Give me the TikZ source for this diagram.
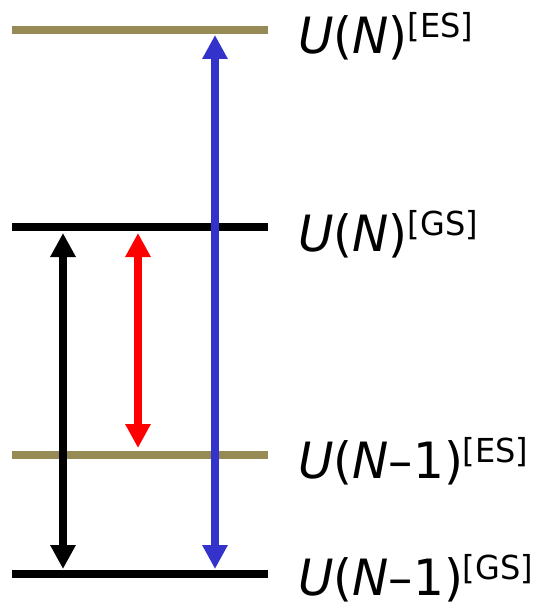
\documentclass[tikz,border=0pt]{standalone}
\usepackage{fontspec}
\setmainfont[FakeStretch=0.97]{DejaVu Sans}
\usetikzlibrary{arrows.meta}
\definecolor{olivelev}{RGB}{150,138,85}
\definecolor{bluearr}{RGB}{51,51,204}
\definecolor{redarr}{RGB}{255,0,0}
\newcommand{\supl}[1]{\raisebox{16pt}{\fontsize{33}{33}\selectfont[#1]}}
\begin{document}
\begin{tikzpicture}[x=1pt,y=-1pt,
  level/.style={line width=8pt},
  lbl/.style={anchor=base west,inner sep=0pt,font=\fontsize{50}{50}\selectfont},
  trans/.style={line width=7.5pt,{Triangle[width=24pt,length=24pt]}-{Triangle[width=24pt,length=24pt]},shorten <=0pt,shorten >=0pt}]
\useasboundingbox (0,0) rectangle (542,602);
% level line ends
\coordinate (esNa) at (12,30);   \coordinate (esNb) at (268,30);
\coordinate (gsNa) at (12,227);  \coordinate (gsNb) at (268,227);
\coordinate (esMa) at (12,455);  \coordinate (esMb) at (268,455);
\coordinate (gsMa) at (12,574);  \coordinate (gsMb) at (268,574);
\draw[level,olivelev] (esNa) -- (esNb);
\draw[level,black] (gsNa) -- (gsNb);
\draw[level,olivelev] (esMa) -- (esMb);
\draw[level,black] (gsMa) -- (gsMb);
% labels
\node[lbl] (lesN) at (298,53) {{\itshape U}({\itshape N})\supl{ES}};
\node[lbl] (lgsN) at (298,251) {{\itshape U}({\itshape N})\supl{GS}};
\node[lbl] (lesM) at (298,478) {{\itshape U}({\itshape N}–1)\supl{ES}};
\node[lbl] (lgsM) at (298,595) {{\itshape U}({\itshape N}–1)\supl{GS}};
% arrow ends
\coordinate (k1) at (63,233); \coordinate (k2) at (63,569);
\coordinate (r1) at (138,233); \coordinate (r2) at (138,448);
\coordinate (b1) at (215,35); \coordinate (b2) at (215,569);
\draw[trans,black] (k1) -- (k2);
\draw[trans,redarr] (r1) -- (r2);
\draw[trans,bluearr] (b1) -- (b2);
\end{tikzpicture}
\end{document}
